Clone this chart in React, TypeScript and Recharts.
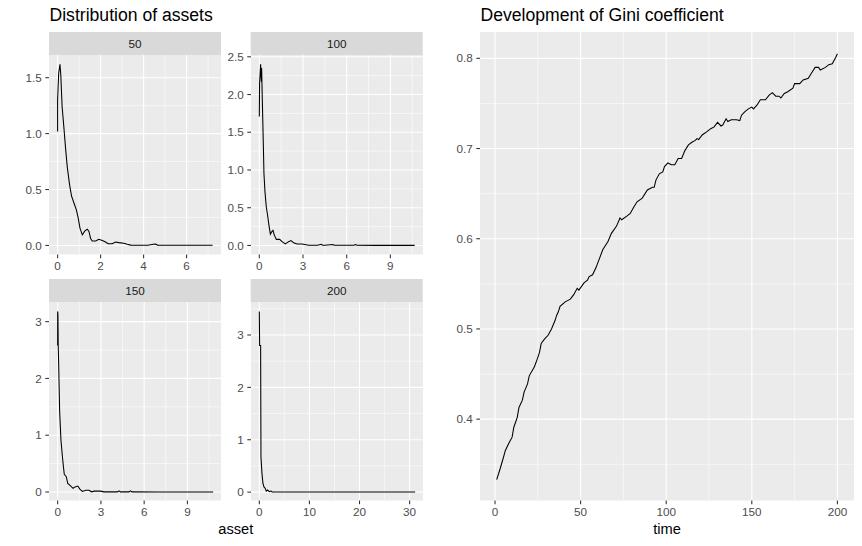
import React from 'react';
import { LineChart, Line, XAxis, YAxis, CartesianGrid } from 'recharts';

// asset density at time 50
const asset50 = [0, 0.0, 0.05, 0.11, 0.15, 0.21, 0.29, 0.37, 0.45, 0.56, 0.65, 0.76, 0.87, 0.96, 1.04, 1.15, 1.27, 1.38, 1.46, 1.53, 1.61, 1.77, 1.92, 2.08, 2.23, 2.35, 2.54, 2.7, 2.85, 3.08, 3.24, 3.4, 3.8, 4.2, 4.45, 4.55, 4.65, 5.2, 6.0, 6.6, 7.21];
const density50 = [1.02, 1.3, 1.54, 1.62, 1.52, 1.24, 1.06, 0.87, 0.7, 0.54, 0.44, 0.38, 0.32, 0.245, 0.155, 0.095, 0.13, 0.145, 0.125, 0.065, 0.04, 0.04, 0.055, 0.045, 0.03, 0.015, 0.015, 0.03, 0.025, 0.02, 0.01, 0.003, 0.002, 0.002, 0.01, 0.012, 0.003, 0.002, 0.001, 0.001, 0.001];

// time 100
const asset100 = [0, 0.02, 0.09, 0.14, 0.16, 0.21, 0.27, 0.32, 0.39, 0.48, 0.57, 0.66, 0.76, 0.85, 0.94, 1.03, 1.17, 1.4, 1.56, 1.79, 2.01, 2.18, 2.36, 2.59, 2.93, 3.39, 4.0, 4.25, 4.35, 4.5, 5.05, 5.15, 5.3, 6.5, 6.6, 6.7, 8.0, 9.5, 10.67];
const density100 = [1.71, 2.15, 2.4, 2.17, 2.35, 1.9, 1.4, 0.95, 0.71, 0.51, 0.4, 0.27, 0.15, 0.18, 0.2, 0.137, 0.08, 0.08, 0.05, 0.02, 0.05, 0.065, 0.035, 0.02, 0.02, 0.003, 0.002, 0.015, 0.003, 0.002, 0.012, 0.003, 0.002, 0.002, 0.012, 0.002, 0.001, 0.001, 0.001];

// time 150
const asset150 = [0, 0, 0.02, 0.04, 0.07, 0.14, 0.23, 0.32, 0.39, 0.46, 0.6, 0.7, 0.84, 1.07, 1.21, 1.4, 1.54, 1.72, 1.95, 2.18, 2.35, 2.53, 2.76, 3.0, 3.2, 4.15, 4.25, 4.35, 4.95, 5.05, 5.15, 7.0, 9.0, 10.79];
const density150 = [2.58, 3.18, 3.14, 2.58, 2.26, 1.41, 0.91, 0.65, 0.47, 0.31, 0.27, 0.15, 0.12, 0.065, 0.09, 0.105, 0.05, 0.01, 0.03, 0.03, 0.003, 0.015, 0.015, 0.015, 0.002, 0.002, 0.02, 0.002, 0.002, 0.02, 0.002, 0.001, 0.001, 0.001];

// time 200
const asset200 = [0, 0.06, 0.26, 0.33, 0.53, 0.73, 0.93, 1.19, 1.39, 1.65, 1.99, 2.33, 2.58, 5, 10, 20, 31.1];
const density200 = [3.45, 2.8, 2.8, 0.67, 0.355, 0.165, 0.1, 0.07, 0.02, 0.04, 0.01, 0.02, 0.003, 0.001, 0.001, 0.001, 0.001];

// gini coefficient over time
const time = [1, 3, 5, 6, 8, 10, 11, 13, 14, 16, 17, 19, 20, 23, 24, 26, 27, 29, 31, 33, 35, 36, 37, 38, 41, 44, 46, 48, 49, 52, 54, 55, 57, 59, 61, 63, 66, 68, 71, 73, 74, 77, 79, 81, 83, 86, 89, 92, 93, 94, 96, 98, 99, 101, 103, 105, 107, 109, 111, 113, 115, 117, 118, 119, 121, 124, 126, 128, 130, 132, 133, 135, 136, 138, 141, 143, 144, 146, 148, 150, 151, 153, 155, 158, 160, 162, 164, 166, 167, 169, 171, 174, 175, 178, 180, 183, 185, 187, 189, 190, 193, 195, 197, 199, 200];
const gini = [0.333, 0.345, 0.358, 0.365, 0.373, 0.38, 0.391, 0.402, 0.413, 0.421, 0.43, 0.439, 0.448, 0.458, 0.463, 0.474, 0.484, 0.489, 0.493, 0.5, 0.509, 0.515, 0.519, 0.525, 0.53, 0.533, 0.538, 0.545, 0.543, 0.551, 0.554, 0.558, 0.56, 0.568, 0.578, 0.588, 0.597, 0.606, 0.614, 0.623, 0.621, 0.625, 0.628, 0.635, 0.641, 0.645, 0.654, 0.657, 0.657, 0.665, 0.672, 0.674, 0.68, 0.684, 0.682, 0.682, 0.689, 0.689, 0.698, 0.704, 0.707, 0.709, 0.711, 0.71, 0.715, 0.719, 0.722, 0.724, 0.729, 0.725, 0.726, 0.733, 0.73, 0.732, 0.732, 0.731, 0.737, 0.741, 0.744, 0.746, 0.744, 0.748, 0.754, 0.754, 0.759, 0.762, 0.758, 0.758, 0.756, 0.761, 0.763, 0.767, 0.772, 0.772, 0.776, 0.778, 0.784, 0.79, 0.79, 0.787, 0.79, 0.793, 0.794, 0.801, 0.805];

const FONT = '"Liberation Sans", Arial, sans-serif';
const YW = 40;
const XH = 30;
const PAD = 8; // room above/right so edge tick labels are not clipped

interface PanelProps {
  left: number;
  top: number;
  width: number;
  height: number;
  xs: number[];
  ys: number[];
  xDomain: [number, number];
  yDomain: [number, number];
  xTicks: number[];
  yTicks: number[];
  xMinor: number[];
  yMinor: number[];
  yDigits: number;
}

const Panel = (p: PanelProps) => {
  const data = p.xs.map((x, i) => ({ x, y: p.ys[i] }));
  const tickStyle = { fill: '#4D4D4D', fontSize: 11.7, fontFamily: FONT };
  const tickLine = { stroke: '#333333', strokeWidth: 1.07 };
  return (
    <div style={{ position: 'absolute', left: p.left - YW, top: p.top - PAD }}>
      <LineChart
        width={YW + p.width + PAD}
        height={PAD + p.height + XH}
        data={data}
        margin={{ top: PAD, right: PAD, bottom: 0, left: 0 }}
      >
        <CartesianGrid
          fill="#EBEBEB"
          stroke="#FFFFFF"
          strokeWidth={0.55}
          horizontalValues={p.yMinor}
          verticalValues={p.xMinor}
        />
        <CartesianGrid
          stroke="#FFFFFF"
          strokeWidth={1.1}
          horizontalValues={p.yTicks}
          verticalValues={p.xTicks}
        />
        <XAxis
          dataKey="x"
          type="number"
          domain={p.xDomain}
          allowDataOverflow
          ticks={p.xTicks}
          interval={0}
          height={XH}
          axisLine={false}
          tickLine={tickLine}
          tickSize={3.7}
          tickMargin={3}
          tick={tickStyle}
          tickFormatter={(v: number) => v.toFixed(0)}
        />
        <YAxis
          type="number"
          domain={p.yDomain}
          allowDataOverflow
          ticks={p.yTicks}
          interval={0}
          width={YW}
          axisLine={false}
          tickLine={tickLine}
          tickSize={3.7}
          tickMargin={3.5}
          tick={tickStyle}
          tickFormatter={(v: number) => v.toFixed(p.yDigits)}
        />
        <Line
          type="linear"
          dataKey="y"
          stroke="#000000"
          strokeWidth={1.07}
          dot={false}
          isAnimationActive={false}
        />
      </LineChart>
    </div>
  );
};

const Strip = ({ left, top, width, label }: { left: number; top: number; width: number; label: string }) => (
  <g>
    <rect x={left} y={top} width={width} height={23} fill="#D9D9D9" />
    <text x={left + width / 2} y={top + 15.6} textAnchor="middle" fontSize={11.7} fill="#1A1A1A" fontFamily={FONT}>
      {label}
    </text>
  </g>
);

export default function App() {
  const L1 = 49, L2 = 250.7, PW = 172;
  const T1 = 55, T2 = 302, PH1 = 199.5, PH2 = 198.5;
  return (
    <div style={{ position: 'absolute', left: 0, top: 0, width: 862, height: 546, background: '#FFFFFF', overflow: 'hidden' }}>
      <Panel left={L1} top={T1} width={PW} height={PH1} xs={asset50} ys={density50}
        xDomain={[-0.4, 7.6]} yDomain={[-0.081, 1.703]} xTicks={[0, 2, 4, 6]} xMinor={[1, 3, 5, 7]}
        yTicks={[0, 0.5, 1, 1.5]} yMinor={[0.25, 0.75, 1.25]} yDigits={1} />
      <Panel left={L2} top={T1} width={PW} height={PH1} xs={asset100} ys={density100}
        xDomain={[-0.57, 11.24]} yDomain={[-0.12, 2.524]} xTicks={[0, 3, 6, 9]} xMinor={[1.5, 4.5, 7.5, 10.5]}
        yTicks={[0, 0.5, 1, 1.5, 2, 2.5]} yMinor={[0.25, 0.75, 1.25, 1.75, 2.25]} yDigits={1} />
      <Panel left={L1} top={T2} width={PW} height={PH2} xs={asset150} ys={density150}
        xDomain={[-0.6, 11.33]} yDomain={[-0.15, 3.346]} xTicks={[0, 3, 6, 9]} xMinor={[1.5, 4.5, 7.5, 10.5]}
        yTicks={[0, 1, 2, 3]} yMinor={[0.5, 1.5, 2.5]} yDigits={0} />
      <Panel left={L2} top={T2} width={PW} height={PH2} xs={asset200} ys={density200}
        xDomain={[-1.66, 32.67]} yDomain={[-0.16, 3.63]} xTicks={[0, 10, 20, 30]} xMinor={[5, 15, 25]}
        yTicks={[0, 1, 2, 3]} yMinor={[0.5, 1.5, 2.5, 3.5]} yDigits={0} />
      <Panel left={480} top={32} width={374} height={468.5} xs={time} ys={gini}
        xDomain={[-8.76, 209.7]} yDomain={[0.3098, 0.8292]} xTicks={[0, 50, 100, 150, 200]} xMinor={[25, 75, 125, 175]}
        yTicks={[0.4, 0.5, 0.6, 0.7, 0.8]} yMinor={[0.35, 0.45, 0.55, 0.65, 0.75]} yDigits={1} />
      <svg width={862} height={546} style={{ position: 'absolute', left: 0, top: 0, pointerEvents: 'none' }}>
        <text x={49.5} y={21} fontSize={17.6} fontFamily={FONT} fill="#000000">Distribution of assets</text>
        <text x={480.5} y={21} fontSize={17.6} fontFamily={FONT} fill="#000000">Development of Gini coefficient</text>
        <Strip left={L1} top={32} width={PW} label="50" />
        <Strip left={L2} top={32} width={PW} label="100" />
        <Strip left={L1} top={279} width={PW} label="150" />
        <Strip left={L2} top={279} width={PW} label="200" />
        <text x={235.8} y={534} textAnchor="middle" fontSize={14.67} fontFamily={FONT} fill="#000000">asset</text>
        <text x={667} y={534} textAnchor="middle" fontSize={14.67} fontFamily={FONT} fill="#000000">time</text>
      </svg>
    </div>
  );
}
